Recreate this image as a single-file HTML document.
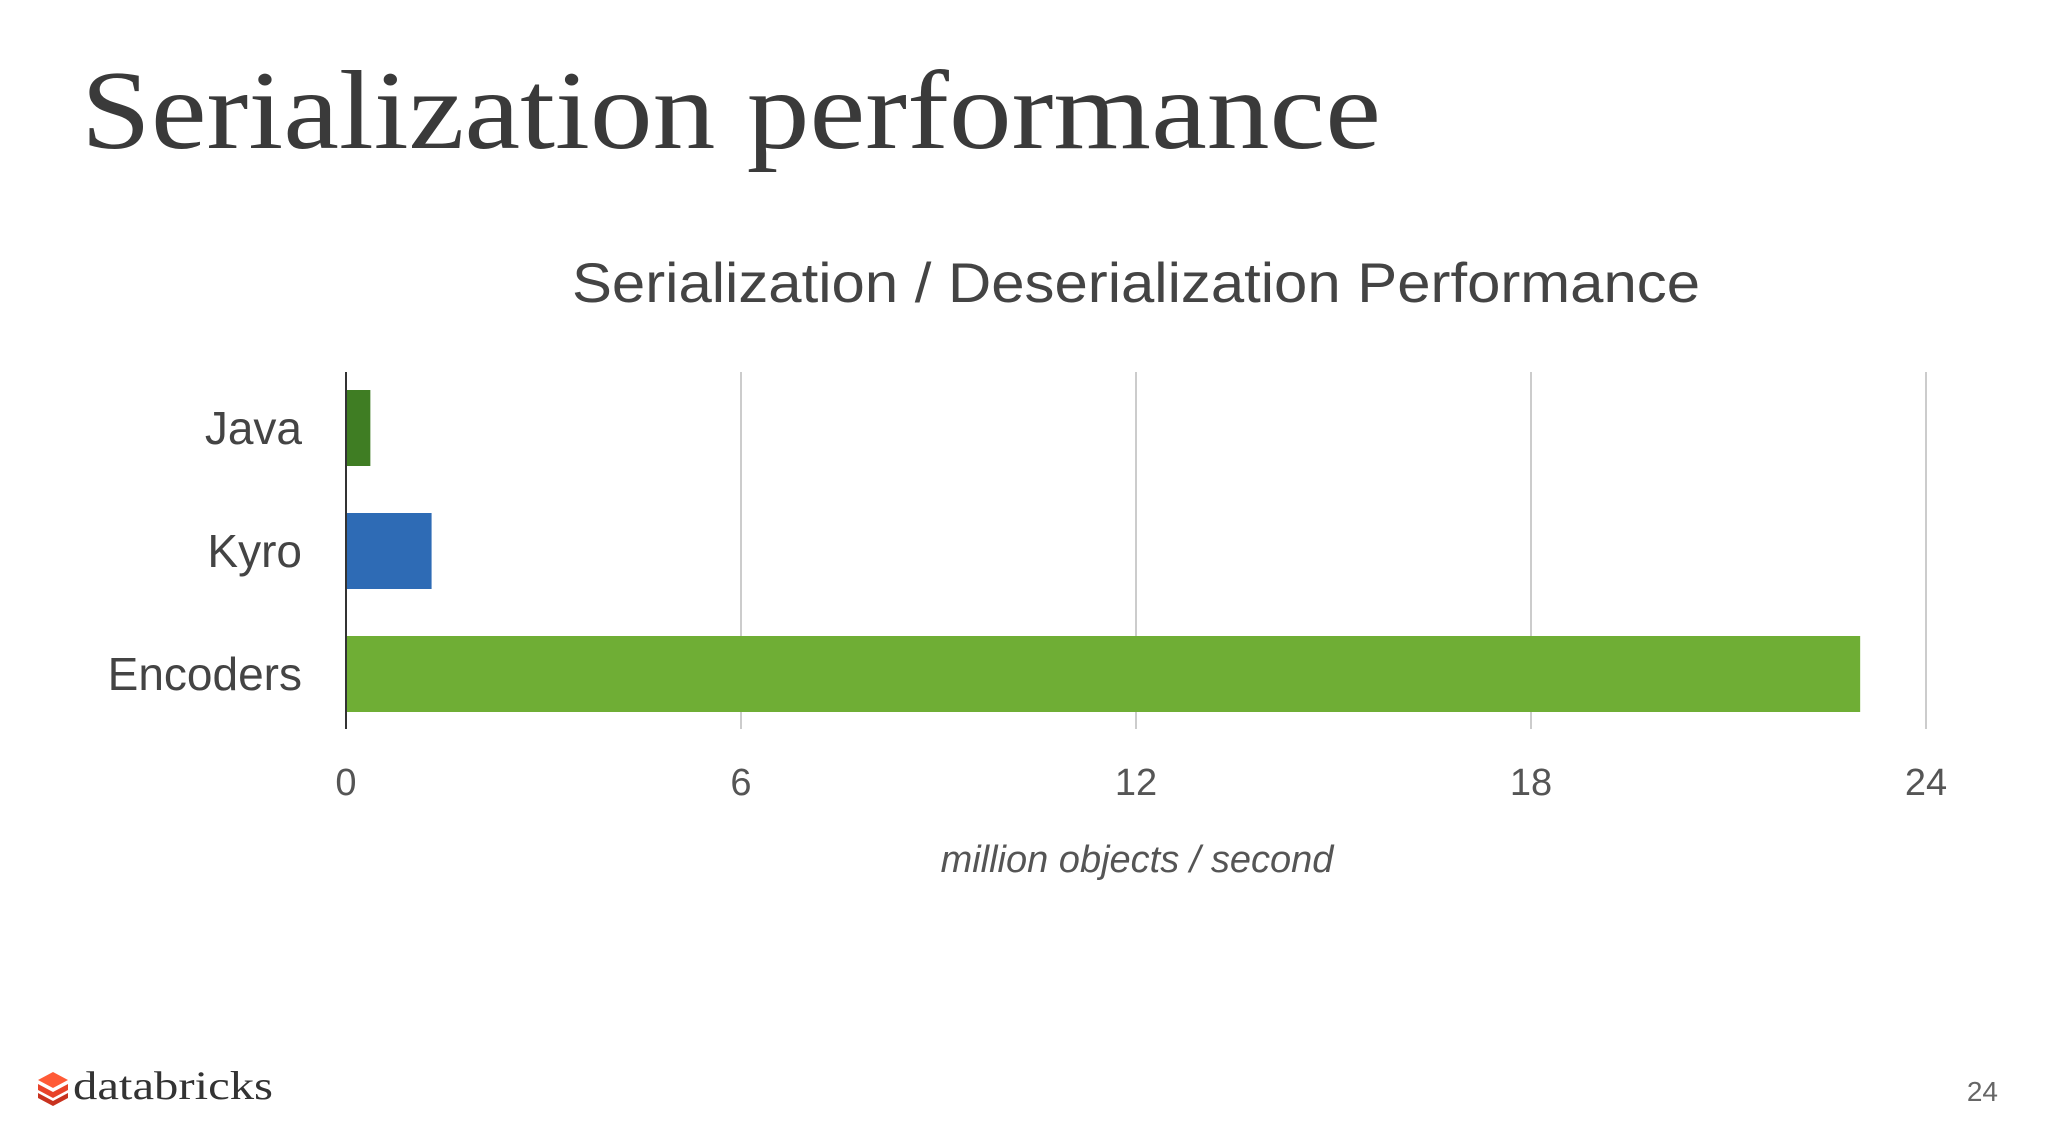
<!DOCTYPE html>
<html><head><meta charset="utf-8"><style>
html,body{margin:0;padding:0;background:#fff;}
svg{display:block;}
</style></head><body>
<svg id="chart" width="2048" height="1126" viewBox="0 0 2048 1126" xmlns="http://www.w3.org/2000/svg">
<rect width="2048" height="1126" fill="#fff"/>
<text x="81" y="148" font-family="Liberation Serif, serif" font-size="112" fill="#3a3a3a" textLength="1300" lengthAdjust="spacingAndGlyphs">Serialization performance</text>
<text x="1136" y="302" text-anchor="middle" font-family="Liberation Sans, sans-serif" font-size="56" fill="#444" textLength="1128" lengthAdjust="spacingAndGlyphs">Serialization / Deserialization Performance</text>
<g id="grid"></g>
<g id="bars"></g>
<g id="labels"></g>
<line x1="346" y1="372" x2="346" y2="729" stroke="#333" stroke-width="2"/>
<text x="1137" y="872" text-anchor="middle" font-family="Liberation Sans, sans-serif" font-style="italic" font-size="38" fill="#555">million objects / second</text>
<g>
<polygon points="53,1072 68,1080 53,1088 38,1080" fill="#ff5a36"/>
<polygon points="38,1084 53,1092 68,1084 68,1090 53,1098 38,1090" fill="#e8432a"/>
<polygon points="38,1093 53,1101 68,1093 68,1098 53,1106 38,1098" fill="#c8321f"/>
<text x="73" y="1099" font-family="Liberation Serif, serif" font-size="40" fill="#333" textLength="200" lengthAdjust="spacingAndGlyphs">databricks</text>
</g>
<text x="1998" y="1101" text-anchor="end" font-family="Liberation Sans, sans-serif" font-size="28" fill="#666">24</text>
</svg>
<script>
const categories = ["Java", "Kyro", "Encoders"];
const values = [0.37, 1.3, 23.0];
const colors = ["#3f7d23", "#2e6bb5", "#6fae35"];
const ticks = [0, 6, 12, 18, 24];
const tickLabels = ["0", "6", "12", "18", "24"];
const NS = "http://www.w3.org/2000/svg";
const x0 = 346, xMaxPx = 1926, dMax = 24;
function xs(v){ return x0 + (v / dMax) * (xMaxPx - x0); }
const bandTop = 390, bandStep = 123, barH = 76;
function ys(i){ return bandTop + i * bandStep; }
const grid = document.getElementById('grid');
const bars = document.getElementById('bars');
const labels = document.getElementById('labels');
ticks.forEach((t, i) => {
  if (t !== 0) {
    const l = document.createElementNS(NS, 'line');
    
    
    l.setAttribute('x1', xs(t)); l.setAttribute('x2', xs(t));
    l.setAttribute('y1', 372); l.setAttribute('y2', 729);
    l.setAttribute('stroke', '#ccc'); l.setAttribute('stroke-width', '2');
    grid.appendChild(l);
  }
  const tx = document.createElementNS(NS, 'text');
  
  
  tx.setAttribute('x', xs(t)); tx.setAttribute('y', 795);
  tx.setAttribute('text-anchor', 'middle');
  tx.setAttribute('font-family', 'Liberation Sans, sans-serif');
  tx.setAttribute('font-size', '38'); tx.setAttribute('fill', '#555');
  tx.textContent = tickLabels[i];
  labels.appendChild(tx);
});
categories.forEach((c, i) => {
  const r = document.createElementNS(NS, 'rect');
  
  
  r.setAttribute('x', x0 + 1); r.setAttribute('y', ys(i));
  r.setAttribute('width', xs(values[i]) - x0 - 1); r.setAttribute('height', barH);
  r.setAttribute('fill', colors[i]);
  bars.appendChild(r);
  const t = document.createElementNS(NS, 'text');
  
  
  t.setAttribute('x', 302); t.setAttribute('y', ys(i) + barH / 2 + 16);
  t.setAttribute('text-anchor', 'end');
  t.setAttribute('font-family', 'Liberation Sans, sans-serif');
  t.setAttribute('font-size', '46'); t.setAttribute('fill', '#444');
  t.textContent = c;
  labels.appendChild(t);
});
</script>
</body></html>
